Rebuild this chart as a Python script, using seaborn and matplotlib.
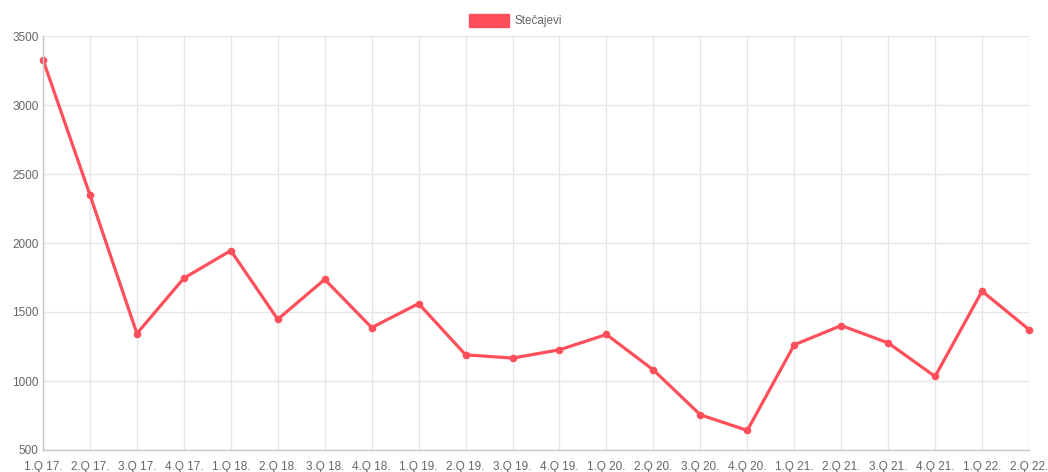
import matplotlib
matplotlib.use("Agg")
import matplotlib.pyplot as plt
import matplotlib.patches as mpatches
import seaborn as sns
import pandas as pd

quarters = ["1.Q 17.", "2.Q 17.", "3.Q 17.", "4.Q 17.", "1.Q 18.", "2.Q 18.",
            "3.Q 18.", "4.Q 18.", "1.Q 19.", "2.Q 19.", "3.Q 19.", "4.Q 19.",
            "1.Q 20.", "2.Q 20.", "3.Q 20.", "4.Q 20.", "1.Q 21.", "2.Q 21.",
            "3.Q 21.", "4.Q 21.", "1.Q 22.", "2.Q 22."]
stecajevi = [3328, 2348, 1344, 1745, 1945, 1447, 1736, 1387, 1561, 1190, 1166,
             1226, 1337, 1080, 755, 642, 1262, 1402, 1276, 1033, 1651, 1373]
y_ticks = [500, 1000, 1500, 2000, 2500, 3000, 3500]
series_name = "Stečajevi"

color = "#ff4f5b"

sns.set_theme(style="white")
plt.rcParams["font.family"] = ["Liberation Sans", "DejaVu Sans"]

df = pd.DataFrame({"pos": range(len(quarters)), "value": stecajevi})

fig = plt.figure(figsize=(10.48, 4.72), dpi=100)
ax = fig.add_axes([43 / 1048, 1 - 450 / 472, (1029 - 43) / 1048, (450 - 36) / 472])

sns.lineplot(data=df, x="pos", y="value", ax=ax, color=color, linewidth=2.3,
             marker="o", markersize=5.5, markeredgecolor=color, markeredgewidth=0)
for line in ax.lines:
    line.set_clip_on(False)

ax.set_xlim(0, len(quarters) - 1)
ax.set_ylim(500, 3500)
ax.set_xticks(range(len(quarters)))
ax.set_xticklabels(quarters)
ax.set_yticks(y_ticks)
ax.set_yticklabels([str(v) for v in y_ticks])
ax.set_xlabel("")
ax.set_ylabel("")

ax.grid(True, color="#e6e6e6", linewidth=1)
ax.set_axisbelow(True)
for side in ["top", "right"]:
    ax.spines[side].set_visible(False)
for side in ["left", "bottom"]:
    ax.spines[side].set_color("#c8c8c8")
    ax.spines[side].set_linewidth(1)

ax.tick_params(axis="x", colors="#666666", labelsize=8.5, length=5, width=1,
               pad=3, color="#e6e6e6")
ax.tick_params(axis="y", colors="#666666", labelsize=8.5, length=0, pad=3)
for lab in ax.get_xticklabels() + ax.get_yticklabels():
    lab.set_color("#666666")

handle = mpatches.Patch(facecolor=color, edgecolor=color, label=series_name)
fig.legend(handles=[handle], loc="upper center", bbox_to_anchor=(0.492, 0.992),
           frameon=False, fontsize=8.5, handlelength=3.4, handleheight=1.2,
           handletextpad=0.5, labelcolor="#666666")

fig.savefig("out.png", dpi=100, facecolor="white")
